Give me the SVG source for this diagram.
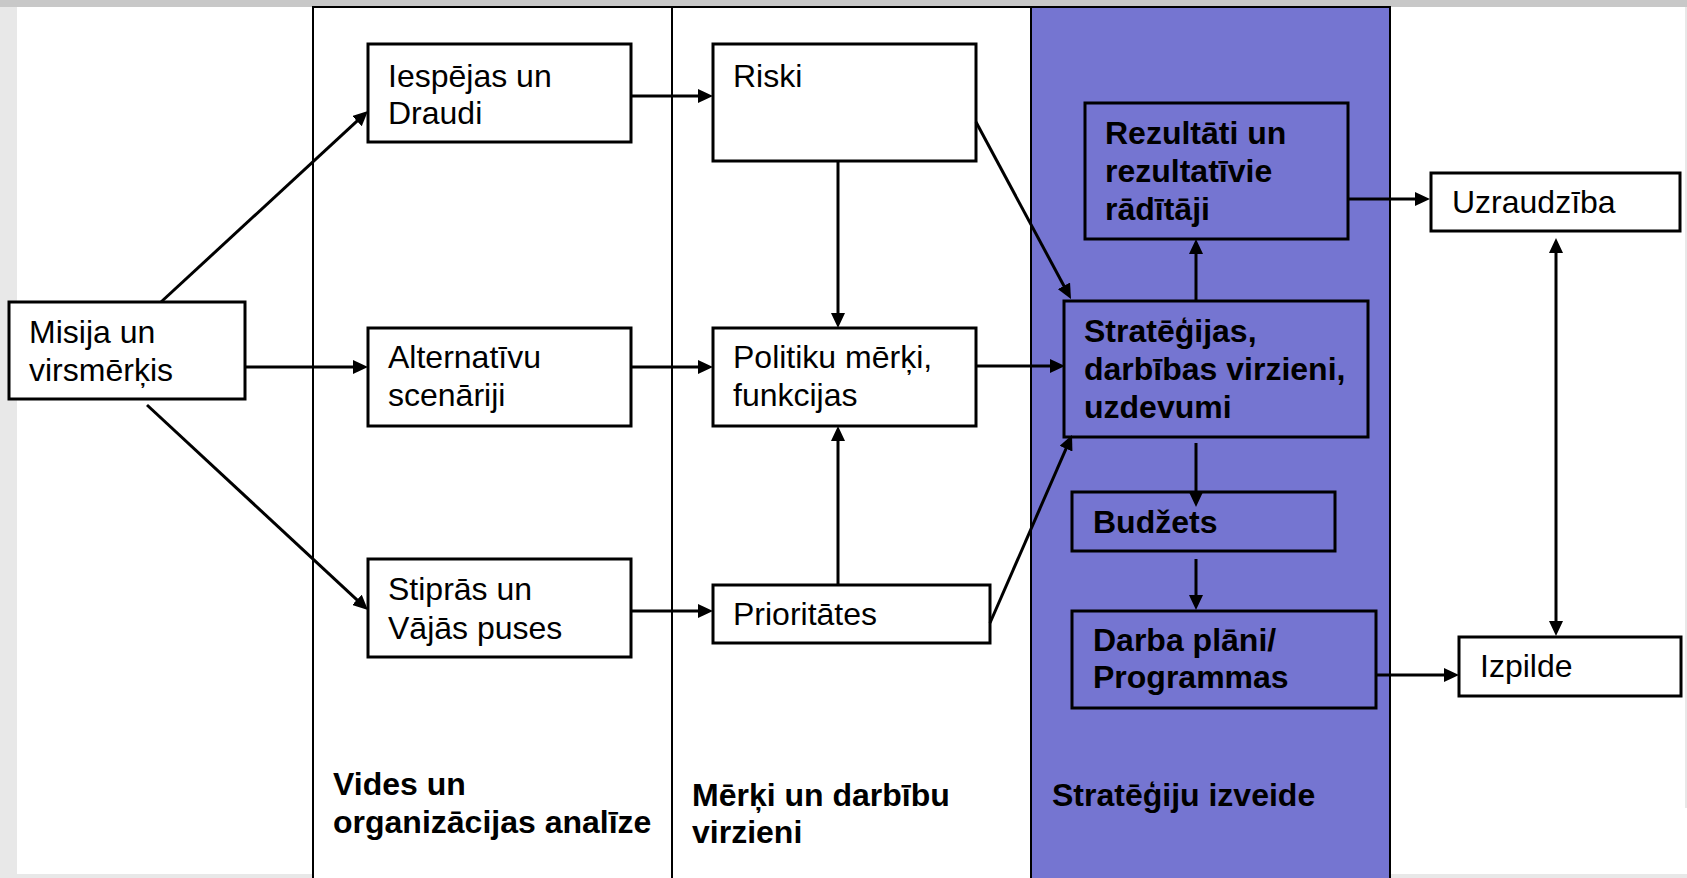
<svg xmlns="http://www.w3.org/2000/svg" width="1687" height="878" viewBox="0 0 1687 878">
<defs>
<style>
.bx{fill:#fff;stroke:#000;stroke-width:3}
.bp{fill:#7575d1;stroke:#000;stroke-width:3}
.lane{fill:#fff;stroke:#000;stroke-width:2}
.lanep{fill:#7575d1;stroke:#000;stroke-width:2}
.t{font-family:"Liberation Sans",Arial,sans-serif;font-size:32px;fill:#000}
.b{font-family:"Liberation Sans",Arial,sans-serif;font-size:32px;font-weight:bold;fill:#000}
.c line{stroke:#000;stroke-width:3;marker-end:url(#ah)}
</style>
<marker id="ah" markerUnits="userSpaceOnUse" markerWidth="15" markerHeight="14" refX="7" refY="7" orient="auto-start-reverse">
<path d="M0,0 L15,7 L0,14 Z" fill="#000"/>
</marker>
</defs>
<rect width="1687" height="878" fill="#e8e8e8"/>
<rect x="0" y="0" width="1687" height="7" fill="#c8c8c8"/>
<rect x="17" y="7" width="1668" height="867" fill="#fff"/>
<rect x="1685" y="808" width="2" height="66" fill="#fff"/>
<g id="lanes">
<rect class="lane" x="313" y="7" width="359" height="880"/>
<rect class="lane" x="672" y="7" width="359" height="880"/>
<rect class="lanep" x="1031" y="7" width="359" height="880"/>
<text class="b" x="333" y="795">Vides un</text>
<text class="b" x="333" y="833">organizācijas analīze</text>
<text class="b" x="692" y="806">Mērķi un darbību</text>
<text class="b" x="692" y="843">virzieni</text>
<text class="b" x="1052" y="806">Stratēģiju izveide</text>
</g>
<g id="n-misija"><rect class="bx" x="9" y="302" width="236" height="97"/><text class="t" x="29" y="343">Misija un</text><text class="t" x="29" y="381">virsmērķis</text></g>
<g id="n-iespejas"><rect class="bx" x="368" y="44" width="263" height="98"/><text class="t" x="388" y="87">Iespējas un</text><text class="t" x="388" y="124">Draudi</text></g>
<g id="n-alternativu"><rect class="bx" x="368" y="328" width="263" height="98"/><text class="t" x="388" y="368">Alternatīvu</text><text class="t" x="388" y="406">scenāriji</text></g>
<g id="n-stipras"><rect class="bx" x="368" y="559" width="263" height="98"/><text class="t" x="388" y="600">Stiprās un</text><text class="t" x="388" y="639">Vājās puses</text></g>
<g id="n-riski"><rect class="bx" x="713" y="44" width="263" height="117"/><text class="t" x="733" y="87">Riski</text></g>
<g id="n-politiku"><rect class="bx" x="713" y="328" width="263" height="98"/><text class="t" x="733" y="368">Politiku mērķi,</text><text class="t" x="733" y="406">funkcijas</text></g>
<g id="n-prioritates"><rect class="bx" x="713" y="585" width="277" height="58"/><text class="t" x="733" y="625">Prioritātes</text></g>
<g id="n-rezultati"><rect class="bp" x="1085" y="103" width="263" height="136"/><text class="b" x="1105" y="144">Rezultāti un</text><text class="b" x="1105" y="182">rezultatīvie</text><text class="b" x="1105" y="220">rādītāji</text></g>
<g id="n-strategijas"><rect class="bp" x="1064" y="301" width="304" height="136"/><text class="b" x="1084" y="342">Stratēģijas,</text><text class="b" x="1084" y="380">darbības virzieni,</text><text class="b" x="1084" y="418">uzdevumi</text></g>
<g id="n-budzets"><rect class="bp" x="1072" y="492" width="263" height="59"/><text class="b" x="1093" y="533">Budžets</text></g>
<g id="n-darba"><rect class="bp" x="1072" y="611" width="304" height="97"/><text class="b" x="1093" y="651">Darba plāni/</text><text class="b" x="1093" y="688">Programmas</text></g>
<g id="n-uzraudziba"><rect class="bx" x="1431" y="173" width="249" height="58"/><text class="t" x="1452" y="213">Uzraudzība</text></g>
<g id="n-izpilde"><rect class="bx" x="1459" y="637" width="222" height="59"/><text class="t" x="1480" y="677">Izpilde</text></g>
<g id="connectors" class="c">
<line x1="161" y1="302" x2="362.1" y2="116.4"/>
<line x1="245" y1="367" x2="360" y2="367"/>
<line x1="147" y1="405" x2="362.1" y2="604.6"/>
<line x1="631" y1="96" x2="705" y2="96"/>
<line x1="631" y1="367" x2="705" y2="367"/>
<line x1="631" y1="611" x2="705" y2="611"/>
<line x1="838" y1="161" x2="838" y2="320"/>
<line x1="838" y1="585" x2="838" y2="434"/>
<line x1="976" y1="122" x2="1067.2" y2="292"/>
<line x1="976" y1="366" x2="1057" y2="366"/>
<line x1="990" y1="623" x2="1068.8" y2="442.3"/>
<line x1="1196" y1="301" x2="1196" y2="247"/>
<line x1="1348" y1="199" x2="1422" y2="199"/>
<line x1="1196" y1="443" x2="1196" y2="499"/>
<line x1="1196" y1="559" x2="1196" y2="602"/>
<line x1="1376" y1="675" x2="1451" y2="675"/>
<line x1="1556" y1="246" x2="1556" y2="628" style="marker-start:url(#ah)"/>
</g>
</svg>
